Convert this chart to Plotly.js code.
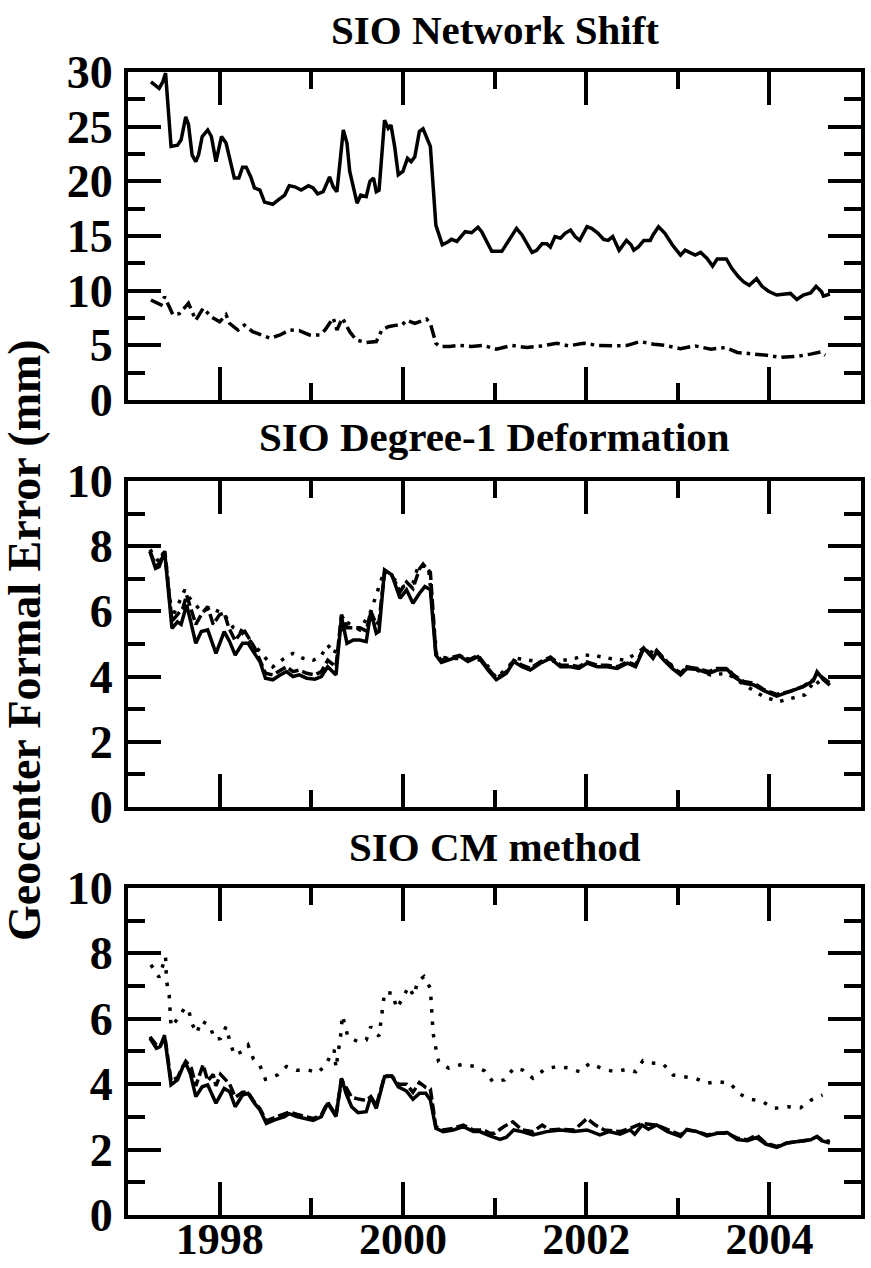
<!DOCTYPE html>
<html>
<head>
<meta charset="utf-8">
<script src="https://cdn.plot.ly/plotly-3.0.1.min.js"></script>
<style>html,body{margin:0;padding:0;background:#fff;}#chart{width:871px;height:1268px;}</style>
</head>
<body>
<div id="chart"></div>
<script>
// ---------- DATA (decimal year, formal error in mm) ----------
// Panel 1: SIO Network Shift
var shiftSolidYear = [1997.25,1997.34,1997.38,1997.41,1997.47,1997.54,1997.58,1997.63,1997.66,1997.70,1997.74,1997.77,1997.81,1997.87,1997.91,1997.96,1998.02,1998.07,1998.11,1998.16,1998.21,1998.25,1998.29,1998.34,1998.38,1998.44,1998.49,1998.58,1998.64,1998.71,1998.76,1998.82,1998.89,1998.97,1999.02,1999.07,1999.13,1999.20,1999.24,1999.28,1999.35,1999.39,1999.42,1999.46,1999.50,1999.54,1999.60,1999.64,1999.68,1999.71,1999.74,1999.80,1999.84,1999.87,1999.91,1999.95,2000.00,2000.05,2000.09,2000.13,2000.18,2000.22,2000.26,2000.30,2000.36,2000.43,2000.50,2000.53,2000.59,2000.68,2000.75,2000.82,2000.86,2000.91,2000.97,2001.08,2001.15,2001.24,2001.30,2001.35,2001.41,2001.46,2001.52,2001.57,2001.61,2001.66,2001.72,2001.77,2001.83,2001.88,2001.93,2002.01,2002.06,2002.13,2002.19,2002.24,2002.29,2002.36,2002.41,2002.44,2002.49,2002.52,2002.57,2002.63,2002.70,2002.73,2002.79,2002.86,2002.94,2003.03,2003.08,2003.14,2003.19,2003.25,2003.32,2003.38,2003.43,2003.53,2003.59,2003.66,2003.72,2003.78,2003.86,2003.92,2003.99,2004.08,2004.16,2004.23,2004.30,2004.37,2004.45,2004.51,2004.57,2004.59,2004.66];
var shiftSolidErr = [29.1,28.5,29.1,29.9,23.2,23.3,23.8,25.9,25.2,22.4,21.8,22.4,24.1,24.7,24.1,21.8,24.1,23.5,22.1,20.3,20.3,21.3,21.3,20.4,19.4,19.2,18.1,17.9,18.3,18.75,19.6,19.5,19.2,19.6,19.4,18.85,19.05,20.4,19.5,19.05,24.7,23.5,20.9,19.4,18.0,18.75,18.6,20.0,20.3,19.05,19.2,25.6,24.85,25.15,23.2,20.6,20.9,22.1,21.8,22.25,24.55,24.8,23.9,23.2,16.0,14.2,14.5,14.7,14.5,15.4,15.3,15.8,15.4,14.6,13.6,13.6,14.5,15.7,15.1,14.3,13.5,13.7,14.3,14.3,14.0,14.95,14.8,15.25,15.55,14.95,14.6,15.85,15.7,15.25,14.7,14.6,14.95,13.7,14.2,14.6,14.2,13.7,14.0,14.6,14.6,15.1,15.85,15.25,14.2,13.25,13.7,13.5,13.25,13.5,12.95,12.25,12.9,12.9,12.05,11.3,10.8,10.5,11.1,10.4,9.95,9.6,9.65,9.75,9.2,9.6,9.8,10.4,9.9,9.5,9.7];
var shiftDashDotYear = [1997.25,1997.36,1997.40,1997.49,1997.56,1997.66,1997.74,1997.82,1997.91,1998.00,1998.07,1998.11,1998.20,1998.27,1998.36,1998.46,1998.55,1998.66,1998.76,1998.87,1998.98,1999.09,1999.15,1999.24,1999.28,1999.34,1999.42,1999.49,1999.60,1999.71,1999.77,1999.84,1999.93,1999.99,2000.04,2000.13,2000.20,2000.26,2000.30,2000.36,2000.40,2000.51,2000.62,2000.75,2000.88,2001.02,2001.19,2001.35,2001.52,2001.68,2001.81,2001.97,2002.12,2002.30,2002.45,2002.59,2002.74,2002.86,2003.03,2003.19,2003.36,2003.52,2003.65,2003.79,2003.97,2004.12,2004.30,2004.45,2004.56,2004.61];
var shiftDashDotErr = [9.15,8.7,9.45,7.8,7.9,8.85,7.3,8.4,7.6,7.15,7.8,7.0,6.4,6.85,6.25,5.95,5.65,5.95,6.4,6.35,5.95,5.95,6.4,7.5,6.4,7.5,6.25,5.5,5.25,5.35,6.4,6.7,6.85,6.85,7.3,7.0,7.2,7.4,7.0,5.2,4.9,4.9,5.0,4.9,5.0,4.65,5.0,4.8,4.95,5.2,4.95,5.2,5.0,4.95,5.0,5.35,5.1,5.0,4.7,4.95,4.65,4.8,4.35,4.25,4.1,3.9,4.0,4.2,4.4,4.1];

// Panel 2: SIO Degree-1 Deformation
var defSolidYear = [1997.24,1997.30,1997.34,1997.40,1997.48,1997.54,1997.58,1997.64,1997.68,1997.74,1997.80,1997.87,1997.96,1998.05,1998.11,1998.17,1998.25,1998.31,1998.38,1998.44,1998.50,1998.58,1998.66,1998.73,1998.80,1998.87,1998.95,1999.04,1999.11,1999.18,1999.27,1999.33,1999.39,1999.46,1999.53,1999.60,1999.65,1999.71,1999.74,1999.80,1999.88,1999.97,2000.04,2000.11,2000.18,2000.24,2000.30,2000.36,2000.42,2000.51,2000.62,2000.71,2000.82,2000.93,2001.02,2001.13,2001.21,2001.30,2001.39,2001.50,2001.61,2001.72,2001.83,2001.92,2002.01,2002.12,2002.23,2002.34,2002.45,2002.54,2002.63,2002.73,2002.77,2002.85,2002.94,2003.03,2003.10,2003.21,2003.34,2003.43,2003.54,2003.61,2003.72,2003.83,2003.94,2004.08,2004.23,2004.37,2004.48,2004.52,2004.59,2004.66];
var defSolidErr = [7.83,7.32,7.37,7.83,5.48,5.68,5.6,6.2,5.74,5.02,5.38,5.43,4.71,5.38,5.07,4.66,5.02,5.02,4.71,4.46,3.95,3.9,4.05,4.15,4.0,4.05,3.95,3.92,4.0,4.3,4.05,5.84,5.02,5.12,5.12,5.07,5.99,5.33,5.38,7.27,7.12,6.4,6.66,6.25,6.55,6.76,6.66,4.66,4.43,4.51,4.63,4.46,4.61,4.2,3.9,4.1,4.46,4.3,4.2,4.41,4.56,4.3,4.3,4.25,4.41,4.3,4.3,4.25,4.41,4.3,4.87,4.56,4.76,4.5,4.25,4.05,4.25,4.22,4.1,4.2,4.22,4.0,3.8,3.74,3.57,3.4,3.54,3.69,3.87,4.15,3.9,3.74];
var defDashYear = [1997.24,1997.30,1997.34,1997.40,1997.48,1997.54,1997.60,1997.64,1997.70,1997.74,1997.80,1997.87,1997.93,1998.00,1998.05,1998.10,1998.17,1998.22,1998.25,1998.31,1998.38,1998.44,1998.50,1998.58,1998.66,1998.73,1998.80,1998.87,1998.95,1999.04,1999.11,1999.18,1999.27,1999.33,1999.39,1999.46,1999.53,1999.60,1999.65,1999.71,1999.74,1999.80,1999.88,1999.97,2000.04,2000.11,2000.18,2000.22,2000.26,2000.30,2000.36,2000.42,2000.50,2000.62,2000.71,2000.82,2000.93,2001.02,2001.13,2001.21,2001.30,2001.39,2001.50,2001.61,2001.72,2001.83,2001.92,2002.01,2002.12,2002.23,2002.34,2002.45,2002.54,2002.63,2002.73,2002.77,2002.85,2002.94,2003.03,2003.10,2003.21,2003.34,2003.43,2003.54,2003.61,2003.72,2003.83,2003.94,2004.08,2004.23,2004.37,2004.48,2004.52,2004.59,2004.66];
var defDashErr = [7.85,7.4,7.45,7.85,5.7,5.9,6.1,6.5,6.0,5.6,5.9,6.15,5.6,5.9,5.95,5.5,5.1,5.3,5.5,5.2,4.9,4.5,4.1,4.05,4.2,4.3,4.15,4.2,4.1,4.05,4.15,4.5,4.3,5.9,5.5,5.5,5.5,5.4,6.0,5.6,5.7,7.2,7.1,6.6,6.9,6.7,7.3,7.45,7.3,7.2,4.7,4.5,4.55,4.65,4.5,4.65,4.25,3.95,4.15,4.5,4.35,4.25,4.45,4.6,4.35,4.35,4.3,4.45,4.35,4.35,4.3,4.45,4.35,4.9,4.6,4.8,4.55,4.3,4.1,4.3,4.25,4.15,4.25,4.25,4.05,3.85,3.8,3.6,3.45,3.55,3.7,3.9,4.1,3.95,3.8];
var defDotYear = [1997.24,1997.34,1997.40,1997.48,1997.62,1997.66,1997.80,1997.90,1998.04,1998.15,1998.25,1998.40,1998.58,1998.70,1998.80,1998.91,1999.02,1999.10,1999.18,1999.25,1999.38,1999.53,1999.65,1999.80,1999.90,2000.00,2000.11,2000.17,2000.28,2000.37,2000.51,2000.70,2000.88,2001.02,2001.24,2001.50,2001.75,2001.88,2001.99,2002.12,2002.25,2002.43,2002.63,2002.85,2003.03,2003.10,2003.36,2003.54,2003.72,2003.94,2004.10,2004.25,2004.39,2004.50,2004.59];
var defDotErr = [7.9,7.5,7.9,5.8,6.66,6.45,6.0,6.1,5.94,5.5,5.33,4.9,4.3,4.55,4.71,4.56,4.5,4.6,4.97,4.7,5.68,5.43,6.0,7.27,7.0,6.76,6.86,7.42,7.37,4.61,4.56,4.55,4.5,3.95,4.56,4.45,4.5,4.56,4.66,4.63,4.56,4.5,4.87,4.56,4.1,4.3,4.05,4.1,3.75,3.38,3.23,3.33,3.44,3.9,3.64];

// Panel 3: SIO CM method
var cmSolidYear = [1997.24,1997.31,1997.35,1997.40,1997.47,1997.54,1997.60,1997.63,1997.68,1997.74,1997.81,1997.87,1997.96,1998.05,1998.11,1998.17,1998.25,1998.31,1998.38,1998.44,1998.51,1998.60,1998.71,1998.76,1998.84,1998.93,1999.02,1999.11,1999.18,1999.27,1999.33,1999.38,1999.44,1999.51,1999.60,1999.65,1999.71,1999.80,1999.88,1999.95,2000.04,2000.11,2000.18,2000.25,2000.30,2000.36,2000.44,2000.55,2000.66,2000.77,2000.84,2000.95,2001.06,2001.13,2001.21,2001.30,2001.42,2001.57,2001.72,2001.87,2002.01,2002.15,2002.25,2002.37,2002.48,2002.53,2002.61,2002.68,2002.77,2002.89,2003.03,2003.10,2003.21,2003.32,2003.43,2003.54,2003.65,2003.76,2003.86,2003.96,2004.08,2004.19,2004.34,2004.45,2004.52,2004.57,2004.66];
var cmSolidErr = [5.4,5.1,5.15,5.45,3.98,4.13,4.54,4.64,4.33,3.62,3.92,3.98,3.42,3.87,3.77,3.31,3.67,3.72,3.42,3.21,2.8,2.91,3.01,3.1,3.01,2.96,2.89,3.01,3.42,3.01,4.18,3.72,3.31,3.13,3.16,3.62,3.26,4.23,4.25,3.92,3.79,3.54,3.72,3.72,3.52,2.65,2.55,2.6,2.7,2.55,2.55,2.42,2.31,2.38,2.6,2.55,2.45,2.55,2.6,2.55,2.6,2.45,2.55,2.47,2.6,2.47,2.75,2.62,2.75,2.55,2.4,2.62,2.55,2.42,2.5,2.52,2.31,2.27,2.37,2.17,2.07,2.2,2.25,2.3,2.4,2.27,2.2];
var cmDashYear = [1997.24,1997.31,1997.36,1997.40,1997.47,1997.54,1997.60,1997.63,1997.69,1997.74,1997.82,1997.87,1997.93,1997.96,1998.01,1998.07,1998.11,1998.17,1998.25,1998.31,1998.38,1998.44,1998.51,1998.60,1998.71,1998.76,1998.84,1998.93,1999.02,1999.11,1999.18,1999.27,1999.33,1999.38,1999.44,1999.51,1999.60,1999.65,1999.71,1999.80,1999.88,1999.95,2000.04,2000.11,2000.18,2000.25,2000.30,2000.36,2000.44,2000.55,2000.66,2000.77,2000.88,2000.95,2001.00,2001.10,2001.20,2001.30,2001.42,2001.52,2001.60,2001.72,2001.87,2002.01,2002.10,2002.20,2002.37,2002.48,2002.61,2002.77,2002.89,2003.03,2003.10,2003.21,2003.32,2003.43,2003.54,2003.65,2003.76,2003.86,2003.96,2004.08,2004.19,2004.34,2004.45,2004.52,2004.57,2004.66];
var cmDashErr = [5.45,5.2,5.2,5.5,4.1,4.2,4.55,4.7,4.5,3.95,4.6,4.1,4.3,3.95,4.3,4.1,4.0,3.6,3.75,3.75,3.45,3.25,2.88,2.98,3.08,3.15,3.08,3.02,2.95,3.06,3.45,3.05,4.15,3.9,3.6,3.55,3.5,3.62,3.35,4.25,4.25,4.0,4.0,3.75,4.05,3.9,3.85,2.7,2.6,2.65,2.75,2.6,2.6,2.5,2.5,2.7,2.85,2.6,2.55,2.75,2.6,2.62,2.6,2.95,2.75,2.6,2.55,2.65,2.8,2.75,2.6,2.45,2.6,2.55,2.45,2.5,2.5,2.35,2.3,2.45,2.2,2.1,2.2,2.25,2.3,2.4,2.3,2.25];
var cmDotYear = [1997.25,1997.34,1997.41,1997.42,1997.45,1997.47,1997.56,1997.62,1997.66,1997.70,1997.75,1997.80,1997.89,1997.95,1998.01,1998.07,1998.11,1998.16,1998.24,1998.31,1998.37,1998.44,1998.50,1998.63,1998.73,1998.84,1998.97,1999.07,1999.16,1999.22,1999.25,1999.27,1999.32,1999.34,1999.40,1999.51,1999.60,1999.65,1999.69,1999.74,1999.76,1999.78,1999.80,1999.89,1999.93,2000.00,2000.06,2000.12,2000.16,2000.23,2000.30,2000.31,2000.33,2000.36,2000.39,2000.50,2000.65,2000.79,2000.89,2000.98,2001.11,2001.21,2001.31,2001.42,2001.55,2001.68,2001.80,2001.93,2002.04,2002.19,2002.32,2002.45,2002.54,2002.62,2002.74,2002.84,2002.95,2003.06,2003.19,2003.32,2003.43,2003.57,2003.68,2003.80,2003.92,2004.05,2004.20,2004.34,2004.47,2004.58];
var cmDotErr = [7.65,7.27,7.9,7.17,6.7,5.76,6.06,6.34,6.29,5.84,5.56,5.94,5.79,5.37,5.4,5.76,5.33,4.89,4.99,5.2,4.76,4.57,4.15,4.28,4.54,4.43,4.43,4.35,4.59,4.94,5.05,4.5,5.47,6.1,5.45,5.3,5.35,5.76,5.6,5.47,5.91,6.37,6.81,6.78,6.32,6.63,6.98,6.7,7.14,7.29,6.93,6.47,5.56,5.1,4.69,4.49,4.61,4.54,4.41,4.08,4.13,4.49,4.43,4.18,4.46,4.54,4.5,4.38,4.64,4.46,4.38,4.46,4.38,4.72,4.64,4.62,4.28,4.23,4.18,4.03,4.08,4.03,3.69,3.54,3.47,3.26,3.31,3.28,3.54,3.67];

var panelTitles = ['SIO Network Shift', 'SIO Degree-1 Deformation', 'SIO CM method'];
var yTitle = 'Geocenter Formal Error (mm)';
var xTickVals = [1998, 2000, 2002, 2004];
var xTickText = ['1998', '2000', '2002', '2004'];

// ---------- STYLE ----------
var FONT = 'Liberation Serif, Times New Roman, serif';
function line(x, y, xa, ya, dash, w) {
  return {x: x, y: y, xaxis: xa, yaxis: ya, type: 'scatter', mode: 'lines',
          line: {color: 'black', width: w, dash: dash}, hoverinfo: 'skip'};
}
var traces = [
  line(shiftSolidYear, shiftSolidErr, 'x', 'y', 'solid', 3.5),
  line(shiftDashDotYear, shiftDashDotErr, 'x', 'y', '13px,5px,3.5px,5px', 3.5),
  line(defSolidYear, defSolidErr, 'x2', 'y2', 'solid', 3.5),
  line(defDashYear, defDashErr, 'x2', 'y2', '11px,4px', 3.5),
  line(defDotYear, defDotErr, 'x2', 'y2', '3.5px,8px', 3.5),
  line(cmSolidYear, cmSolidErr, 'x3', 'y3', 'solid', 3.5),
  line(cmDashYear, cmDashErr, 'x3', 'y3', '11px,4px', 3.5),
  line(cmDotYear, cmDotErr, 'x3', 'y3', '3.5px,9px', 3.5)
];

var tickFont = {family: FONT, size: 46, color: 'black', weight: 700};
var xTickFont = {family: FONT, size: 44, color: 'black', weight: 700};
function xax(anchor, showLabels) {
  return {anchor: anchor, domain: [0, 1], range: [1997, 2005], tickvals: xTickVals, ticktext: xTickText,
    showticklabels: showLabels, ticks: 'inside', ticklen: 33, tickwidth: 4, tickcolor: 'black',
    mirror: 'allticks', showline: true, linewidth: 4, linecolor: 'black', showgrid: false, zeroline: false,
    tickfont: xTickFont, fixedrange: true, ticklabelstandoff: -18,
    minor: {ticks: 'inside', ticklen: 17, tickwidth: 4, tickcolor: 'black', tick0: 1997, dtick: 2, showgrid: false}};
}
function yax(anchor, dom, rng, dt, mdt) {
  return {anchor: anchor, domain: dom, range: rng, tick0: 0, dtick: dt,
    ticks: 'inside', ticklen: 33, tickwidth: 4, tickcolor: 'black',
    mirror: 'allticks', showline: true, linewidth: 4, linecolor: 'black', showgrid: false, zeroline: false,
    tickfont: tickFont, fixedrange: true, ticklabelstandoff: 2,
    minor: {ticks: 'inside', ticklen: 17, tickwidth: 4, tickcolor: 'black', dtick: mdt, showgrid: false}};
}

var titleFont = {family: FONT, size: 41, color: 'black', weight: 700};
var yTitleFont = {family: FONT, size: 46, color: 'black', weight: 700};
var layout = {
  width: 871, height: 1268,
  margin: {l: 128, r: 10, t: 72, b: 53},
  paper_bgcolor: 'white', plot_bgcolor: 'white',
  showlegend: false,
  xaxis: xax('y', false),
  xaxis2: xax('y2', false),
  xaxis3: xax('y3', true),
  yaxis: yax('x', [0.7130, 1], [0, 30], 5, 2.5),
  yaxis2: yax('x2', [0.3570, 0.6422], [0, 10], 2, 1),
  yaxis3: yax('x3', [0, 0.2861], [0, 10], 2, 1),
  annotations: [
    {text: panelTitles[0], xref: 'paper', yref: 'paper', x: 0.5, y: 1.0367, xanchor: 'center', yanchor: 'middle', showarrow: false, font: titleFont},
    {text: panelTitles[1], xref: 'paper', yref: 'paper', x: 0.5, y: 0.6807, xanchor: 'center', yanchor: 'middle', showarrow: false, font: titleFont},
    {text: panelTitles[2], xref: 'paper', yref: 'paper', x: 0.5, y: 0.322, xanchor: 'center', yanchor: 'middle', showarrow: false, font: titleFont},
    {text: yTitle, xref: 'paper', yref: 'paper', x: -0.142, y: 0.503, xanchor: 'center', yanchor: 'middle', textangle: -90, showarrow: false, font: yTitleFont}
  ]
};

Plotly.newPlot('chart', traces, layout, {staticPlot: true, displayModeBar: false});
</script>
</body>
</html>
